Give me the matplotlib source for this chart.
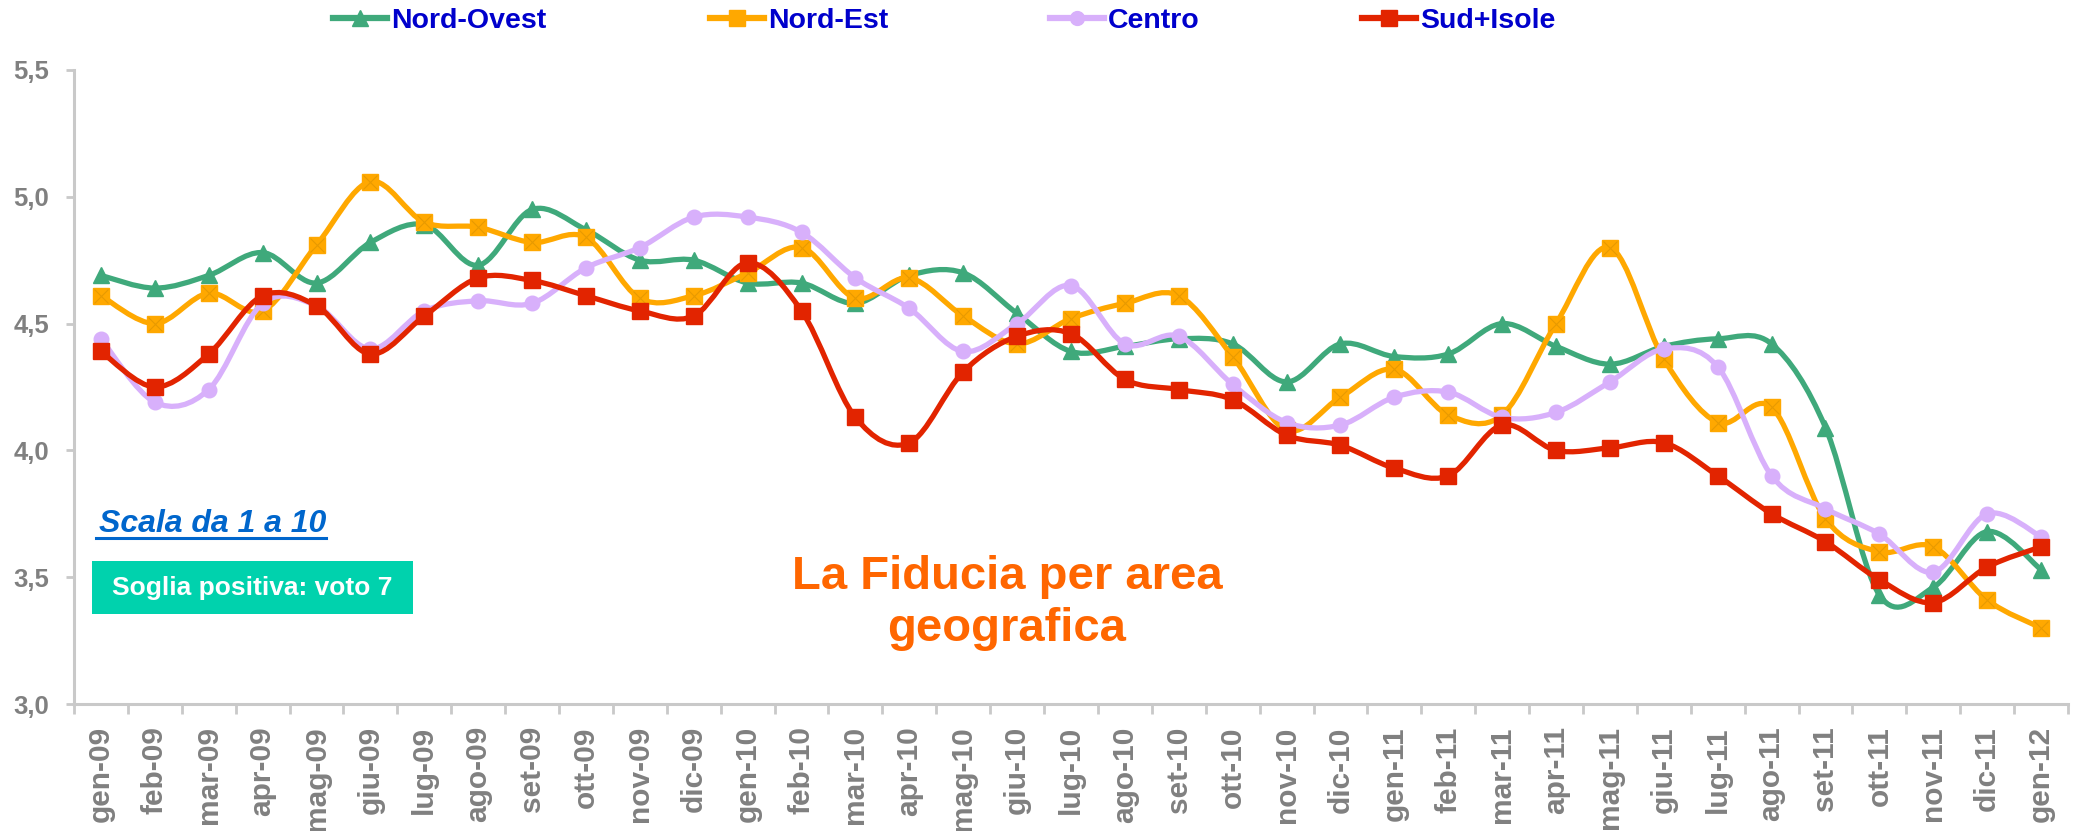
import numpy as np
import matplotlib
matplotlib.use("Agg")
import matplotlib.pyplot as plt
from matplotlib.path import Path
from matplotlib.patches import PathPatch, Rectangle
from matplotlib.lines import Line2D
from matplotlib.ticker import FixedLocator, FuncFormatter

# ---------------- data ----------------
months = ["gen-09", "feb-09", "mar-09", "apr-09", "mag-09", "giu-09", "lug-09", "ago-09",
          "set-09", "ott-09", "nov-09", "dic-09",
          "gen-10", "feb-10", "mar-10", "apr-10", "mag-10", "giu-10", "lug-10", "ago-10",
          "set-10", "ott-10", "nov-10", "dic-10",
          "gen-11", "feb-11", "mar-11", "apr-11", "mag-11", "giu-11", "lug-11", "ago-11",
          "set-11", "ott-11", "nov-11", "dic-11",
          "gen-12"]

nord_ovest = [4.69, 4.64, 4.69, 4.78, 4.66, 4.82, 4.89, 4.73, 4.95, 4.87, 4.75, 4.75,
              4.66, 4.66, 4.58, 4.69, 4.70, 4.54, 4.39, 4.41, 4.44, 4.42, 4.27, 4.42,
              4.37, 4.38, 4.50, 4.41, 4.34, 4.41, 4.44, 4.42, 4.09, 3.43, 3.46, 3.68,
              3.53]
nord_est = [4.61, 4.50, 4.62, 4.55, 4.81, 5.06, 4.90, 4.88, 4.82, 4.84, 4.60, 4.61,
            4.70, 4.80, 4.60, 4.68, 4.53, 4.42, 4.52, 4.58, 4.61, 4.37, 4.08, 4.21,
            4.32, 4.14, 4.14, 4.50, 4.80, 4.36, 4.11, 4.17, 3.73, 3.60, 3.62, 3.41,
            3.30]
centro = [4.44, 4.19, 4.24, 4.58, 4.57, 4.40, 4.55, 4.59, 4.58, 4.72, 4.80, 4.92,
          4.92, 4.86, 4.68, 4.56, 4.39, 4.50, 4.65, 4.42, 4.45, 4.26, 4.11, 4.10,
          4.21, 4.23, 4.13, 4.15, 4.27, 4.40, 4.33, 3.90, 3.77, 3.67, 3.52, 3.75,
          3.66]
sud_isole = [4.39, 4.25, 4.38, 4.61, 4.57, 4.38, 4.53, 4.68, 4.67, 4.61, 4.55, 4.53,
             4.74, 4.55, 4.13, 4.03, 4.31, 4.45, 4.46, 4.28, 4.24, 4.20, 4.06, 4.02,
             3.93, 3.90, 4.10, 4.00, 4.01, 4.03, 3.90, 3.75, 3.64, 3.49, 3.40, 3.54,
             3.62]

series_names = ["Nord-Ovest", "Nord-Est", "Centro", "Sud+Isole"]
series_values = [nord_ovest, nord_est, centro, sud_isole]
y_ticks = [3.0, 3.5, 4.0, 4.5, 5.0, 5.5]

# ---------------- styles ----------------
colors = ["#3FA97B", "#FFA800", "#D8B0FB", "#E22400"]
markers = ["^", "s", "o", "s"]
msizes = [12, 12, 10.5, 11.5]

W, H = 2076, 831
fig = plt.figure(figsize=(W / 100, H / 100), dpi=100)
ax = fig.add_axes([74 / W, 1 - 704 / H, (2068 - 74) / W, (704 - 70) / H])

BOLD = ["Liberation Sans", "DejaVu Sans"]


def smooth_path(xs, ys):
    """Excel-like smoothed line (Catmull-Rom as cubic Bezier)."""
    pts = np.column_stack([xs, ys]).astype(float)
    n = len(pts)
    verts = [pts[0]]
    codes = [Path.MOVETO]
    for i in range(n - 1):
        p0 = pts[i - 1] if i > 0 else pts[i]
        p1 = pts[i]
        p2 = pts[i + 1]
        p3 = pts[i + 2] if i + 2 < n else pts[i + 1]
        c1 = p1 + (p2 - p0) / 6.0
        c2 = p2 - (p3 - p1) / 6.0
        verts += [c1, c2, p2]
        codes += [Path.CURVE4] * 3
    return Path(verts, codes)


x = np.arange(len(months))
handles = []
for k, (name, vals) in enumerate(zip(series_names, series_values)):
    z = 3 + k * 2
    patch = PathPatch(smooth_path(x, vals), facecolor="none", edgecolor=colors[k],
                      lw=3.8, zorder=z, capstyle="round", joinstyle="round")
    ax.add_patch(patch)
    ax.plot(x, vals, linestyle="none", marker=markers[k], ms=msizes[k],
            color=colors[k], markeredgecolor=colors[k], zorder=z + 1)
    if k == 1:
        ax.plot(x, vals, linestyle="none", marker="x", ms=msizes[k] * 0.8,
                color="#E89A00", mew=0.8, zorder=z + 1.5)
    handles.append(Line2D([], [], color=colors[k], lw=4.5, marker=markers[k],
                          ms=msizes[k] * 0.95, markeredgecolor=colors[k]))

ax.set_xlim(-0.5, len(months) - 0.5)
ax.set_ylim(3.0, 5.5)

# axes styling
for s in ["top", "right"]:
    ax.spines[s].set_visible(False)
for s in ["left", "bottom"]:
    ax.spines[s].set_color("#C9C9C9")
    ax.spines[s].set_linewidth(2.2)

ax.yaxis.set_major_locator(FixedLocator(y_ticks))
ax.yaxis.set_major_formatter(FuncFormatter(lambda v, p: f"{v:.1f}".replace(".", ",")))
ax.tick_params(axis="y", which="major", length=6, width=2, color="#C9C9C9",
               pad=12, labelsize=18.5, labelcolor="#808080")
for lab in ax.get_yticklabels():
    lab.set_fontweight("bold")
    lab.set_family(BOLD)

ax.set_xticks(x)
ax.set_xticklabels(months, rotation=90, fontsize=21.5, fontweight="bold",
                   color="#808080", family=BOLD)
ax.set_xticks(np.arange(len(months) + 1) - 0.5, minor=True)
ax.tick_params(axis="x", which="major", length=0, pad=16)
ax.tick_params(axis="x", which="minor", length=7, width=2, color="#C9C9C9")

# ---------------- legends (one per entry) ----------------
leg_x = [333, 710, 1050, 1362]
for k in range(4):
    leg = fig.legend([handles[k]], [series_names[k]], loc="center left",
                     bbox_to_anchor=(leg_x[k] / W, 1 - 21 / H), frameon=False,
                     borderpad=0, borderaxespad=0, handlelength=1.9,
                     handletextpad=0.15, prop={"family": BOLD, "weight": "bold", "size": 20.5})
    for t in leg.get_texts():
        t.set_color("#0000CC")

# ---------------- annotations ----------------
fig.text(99 / W, 1 - 524 / H, "Scala da 1 a 10", color="#0066CC", fontsize=23,
         fontweight="bold", fontstyle="italic", family=BOLD, ha="left", va="center")
fig.add_artist(Line2D([96 / W, 326 / W], [1 - 538 / H, 1 - 538 / H],
                      color="#0066CC", lw=2.2))

fig.add_artist(Rectangle((92 / W, 1 - 614 / H), 321 / W, 53 / H,
                         transform=fig.transFigure, facecolor="#00D2AD",
                         edgecolor="none"))
fig.text(252 / W, 1 - 588 / H, "Soglia positiva: voto 7", color="white",
         fontsize=19, fontweight="bold", family=BOLD, ha="center", va="center")

fig.text(1007 / W, 1 - 603 / H, "La Fiducia per area\ngeografica", color="#FF6600",
         fontsize=34, fontweight="bold", family=BOLD, ha="center", va="center",
         linespacing=1.22)

fig.savefig("out.png", dpi=100)
